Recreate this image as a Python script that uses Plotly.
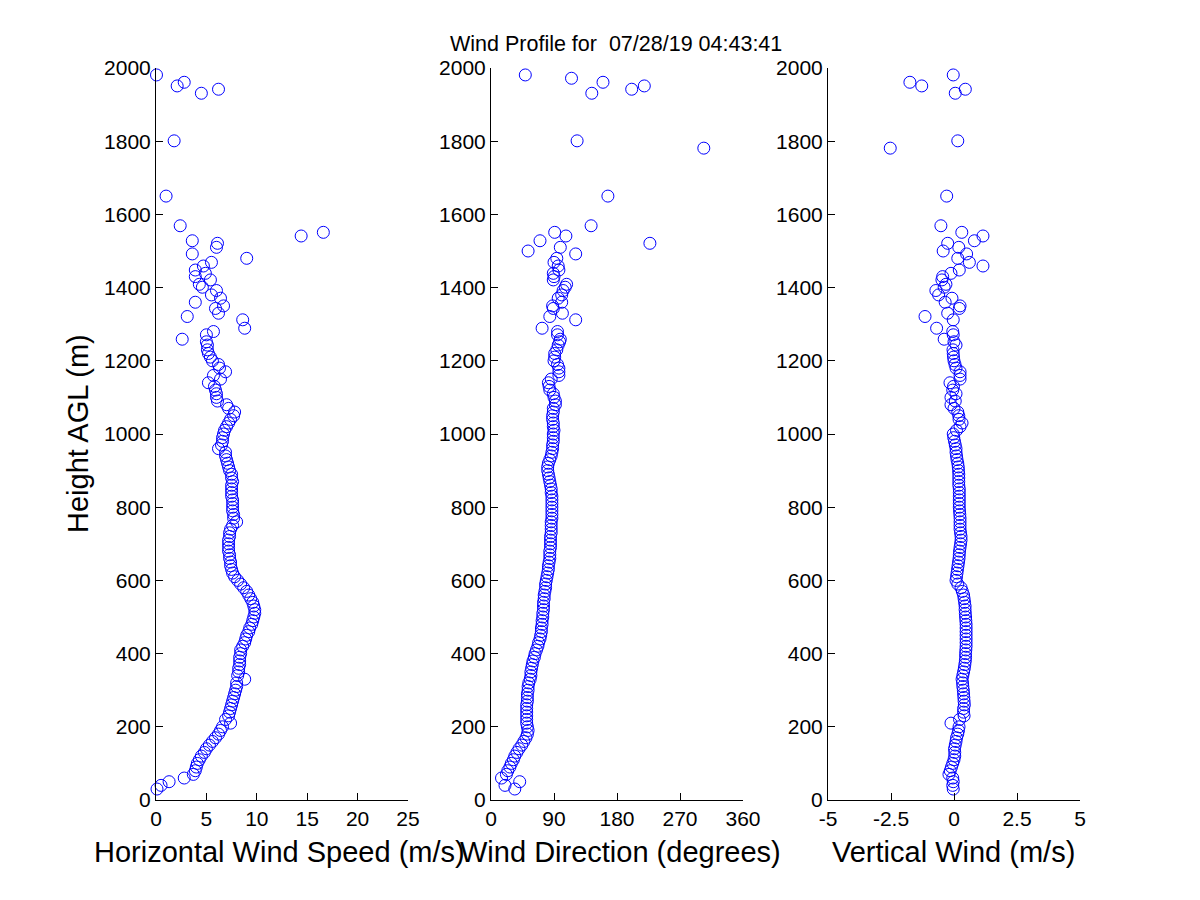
import plotly.graph_objects as go

# heights (m AGL) of the lidar gates
heights = [
    30, 40, 50, 60, 70, 80, 90, 100, 110, 120,
    130, 140, 150, 160, 170, 180, 190, 200, 210, 220,
    230, 240, 250, 260, 270, 280, 290, 300, 310, 320,
    330, 340, 350, 360, 370, 380, 390, 400, 410, 420,
    430, 440, 450, 460, 470, 480, 490, 500, 510, 520,
    530, 540, 550, 560, 570, 580, 590, 600, 610, 620,
    630, 640, 650, 660, 670, 680, 690, 700, 710, 720,
    730, 740, 750, 760, 770, 780, 790, 800, 810, 820,
    830, 840, 850, 860, 870, 880, 890, 900, 910, 920,
    930, 940, 950, 960, 970, 980, 990, 1000, 1010, 1020,
    1030, 1040, 1050, 1060, 1070, 1080, 1090, 1100, 1110, 1120,
    1130, 1140, 1150, 1160, 1170, 1180, 1190, 1200, 1210, 1220,
    1230, 1243, 1252, 1259, 1271, 1280, 1289, 1312, 1321, 1330,
    1343, 1350, 1360, 1371, 1380, 1392, 1401, 1409, 1421, 1430,
    1439, 1448, 1459, 1469, 1480, 1492, 1500, 1510, 1521, 1528,
    1541, 1551, 1569, 1650, 1781, 1801, 1931, 1942, 1951, 1961,
    1972, 1981,
]

# horizontal wind speed (m/s)
speed = [
    0.1, 0.5, 1.3, 2.8, 3.7, 3.9, 4.0, 4.1, 4.3, 4.5,
    4.8, 5.0, 5.3, 5.6, 5.9, 6.2, 6.4, 6.6, 7.4, 6.9,
    7.2, 7.3, 7.4, 7.5, 7.6, 7.7, 7.8, 7.9, 8.0, 8.0,
    8.8, 8.1, 8.2, 8.2, 8.3, 8.3, 8.3, 8.4, 8.4, 8.6,
    8.8, 8.9, 9.0, 9.2, 9.3, 9.5, 9.6, 9.7, 9.8, 9.8,
    9.7, 9.6, 9.4, 9.2, 9.0, 8.7, 8.4, 8.1, 7.8, 7.6,
    7.5, 7.4, 7.4, 7.3, 7.3, 7.2, 7.2, 7.2, 7.2, 7.3,
    7.3, 7.4, 7.6, 8.0, 7.7, 7.7, 7.6, 7.6, 7.6, 7.6,
    7.5, 7.5, 7.5, 7.5, 7.6, 7.5, 7.5, 7.3, 7.2, 7.1,
    7.0, 6.9, 6.9, 6.2, 6.5, 6.6, 6.6, 6.7, 6.8, 7.0,
    7.2, 7.4, 7.7, 7.8, 7.2, 7.0, 6.1, 6.0, 6.0, 5.9,
    5.8, 5.2, 6.4, 5.7, 6.9, 6.3, 6.2, 5.6, 5.4, 5.2,
    5.1, 5.1, 5.0, 2.6, 5.0, 5.7, 8.8, 8.6, 3.1, 6.2,
    5.9, 6.7, 3.9, 6.4, 5.5, 6.0, 4.6, 4.3, 5.4, 3.9,
    4.9, 3.9, 4.7, 5.5, 9.0, 3.6, None, 6.0, 6.1, 3.6,
    14.4, 16.6, 2.4, 1.0, None, 1.8, 4.5, 6.2, 2.1, 2.8,
    None, 0.05,
]

# wind direction (degrees)
direction = [
    34, 20, 41, 15, 22, 24, 27, 29, 32, 34,
    37, 40, 44, 47, 50, 52, 53, 52, 51, 51,
    51, 51, 51, 51, 52, 52, 52, 53, 53, 54,
    56, 57, 57, 58, 59, 60, 62, 63, 65, 67,
    68, 70, 71, 72, 72, 73, 73, 74, 74, 75,
    75, 75, 76, 76, 77, 78, 78, 79, 80, 81,
    82, 82, 83, 84, 84, 84, 85, 85, 85, 85,
    86, 86, 86, 86, 87, 87, 87, 87, 87, 87,
    87, 86, 86, 85, 84, 83, 82, 81, 81, 82,
    84, 86, 87, 88, 88, 89, 89, 89, 90, 89,
    89, 88, 88, 89, 89, 92, 92, 90, 89, 84,
    83, 82, 86, 97, 97, 97, 95, 90, 91, 91,
    94, 96, 98, 99, 95, 95, 73, 121, 84, 102,
    89, 88, 101, 96, 101, 103, 106, 108, 89, 90,
    89, 97, 96, 90, 94, 121, 53, 99, 227, 70,
    107, 91, 143, 167, 304, 123, 144, 201, 219, 160,
    115, 49,
]

# vertical wind (m/s)
vertical = [
    -0.03, -0.05, -0.03, -0.05, -0.2, -0.15, -0.1, -0.05, 0.0, 0.03,
    0.03, 0.02, 0.05, 0.08, 0.1, 0.15, 0.18, 0.2, -0.12, 0.22,
    0.4, 0.38, 0.38, 0.41, 0.4, 0.39, 0.38, 0.37, 0.35, 0.34,
    0.32, 0.35, 0.38, 0.41, 0.43, 0.45, 0.46, 0.46, 0.47, 0.48,
    0.48, 0.48, 0.48, 0.48, 0.48, 0.48, 0.47, 0.46, 0.45, 0.44,
    0.44, 0.42, 0.40, 0.38, 0.33, 0.28, 0.15, 0.08, 0.1, 0.12,
    0.14, 0.16, 0.18, 0.2, 0.21, 0.22, 0.24, 0.26, 0.28, 0.28,
    0.26, 0.24, 0.24, 0.24, 0.24, 0.23, 0.22, 0.21, 0.21, 0.21,
    0.21, 0.21, 0.21, 0.19, 0.19, 0.19, 0.19, 0.18, 0.17, 0.15,
    0.12, 0.1, 0.08, 0.08, 0.05, 0.02, -0.01, -0.03, 0.1, 0.24,
    0.32, 0.2, 0.19, 0.15, 0.0, -0.12, 0.05, -0.12, 0.08, -0.05,
    -0.02, -0.16, 0.24, 0.24, 0.24, 0.08, 0.04, 0.0, -0.02, -0.03,
    -0.04, 0.08, 0.0, -0.39, -0.03, -0.05, -0.69, -0.03, -1.15, -0.25,
    0.21, 0.24, -0.35, -0.08, -0.61, -0.72, -0.39, -0.32, -0.48, -0.45,
    -0.12, 0.21, 1.15, 0.61, 0.15, 0.5, -0.43, 0.19, -0.25, 0.81,
    1.15, 0.31, -0.52, -0.29, -2.53, 0.15, 0.05, 0.45, -1.28, -1.75,
    None, -0.03,
]

FONT = "Liberation Sans, Arial, sans-serif"
# the page puts the figure 8px in from the corner, so work in page pixels
OFF = 8
W, H = 1200 - OFF, 900 - OFF


def fx(px):
    return (px - OFF) / W


def fy(py):
    return 1 - (py - OFF) / H


marker = dict(symbol="circle-open", size=12, color="#0000ff", line=dict(width=1))

fig = go.Figure()
for i, vals in enumerate([speed, direction, vertical]):
    sfx = "" if i == 0 else str(i + 1)
    fig.add_trace(go.Scatter(
        x=vals, y=heights, mode="markers", marker=marker,
        xaxis="x" + sfx, yaxis="y" + sfx, cliponaxis=False,
        showlegend=False,
    ))

# panel edges in page pixels
panels = [(156, 408), (491, 743), (828, 1080)]
xranges = [[0, 25], [0, 360], [-5, 5]]
xticks = [
    ([0, 5, 10, 15, 20, 25], ["0", "5", "10", "15", "20", "25"]),
    ([0, 90, 180, 270, 360], ["0", "90", "180", "270", "360"]),
    ([-5, -2.5, 0, 2.5, 5], ["-5", "-2.5", "0", "2.5", "5"]),
]
y_dom = [fy(800), fy(68)]

axis_common = dict(
    showline=True, linecolor="black", linewidth=1, mirror=False,
    ticks="inside", ticklen=7, tickcolor="black", tickwidth=1,
    showgrid=False, zeroline=False, automargin=False,
    tickfont=dict(family=FONT, size=21, color="black"),
)

layout = {}
for i, ((x0, x1), rng, (tv, tt)) in enumerate(zip(panels, xranges, xticks)):
    sfx = "" if i == 0 else str(i + 1)
    layout["xaxis" + sfx] = dict(
        axis_common, domain=[fx(x0), fx(x1)], range=rng,
        tickvals=tv, ticktext=tt, anchor="y" + sfx,
    )
    layout["yaxis" + sfx] = dict(
        axis_common, domain=y_dom, range=[0, 2000],
        tickvals=list(range(0, 2001, 200)), anchor="x" + sfx,
    )

fig.update_layout(
    **layout,
    width=W, height=H,
    margin=dict(l=0, r=0, t=0, b=0),
    paper_bgcolor="white", plot_bgcolor="white",
    font=dict(family=FONT, color="black"),
)

titles = [
    ("Horizontal Wind Speed (m/s)", 279, 852),
    ("Wind Direction (degrees)", 620, 852),
    ("Vertical Wind (m/s)", 953, 852),
]
for text, px, py in titles:
    fig.add_annotation(text=text, x=fx(px), y=fy(py), xref="paper", yref="paper",
                       showarrow=False, font=dict(size=29), xanchor="center", yanchor="middle")

fig.add_annotation(text="Height AGL (m)", x=fx(78), y=fy(434), xref="paper", yref="paper",
                   showarrow=False, textangle=-90, font=dict(size=29),
                   xanchor="center", yanchor="middle")
fig.add_annotation(text="Wind Profile for \u00a007/28/19 04:43:41", x=fx(616), y=fy(44),
                   xref="paper", yref="paper", showarrow=False, font=dict(size=21.5),
                   xanchor="center", yanchor="middle")

fig.write_html("out.html")
